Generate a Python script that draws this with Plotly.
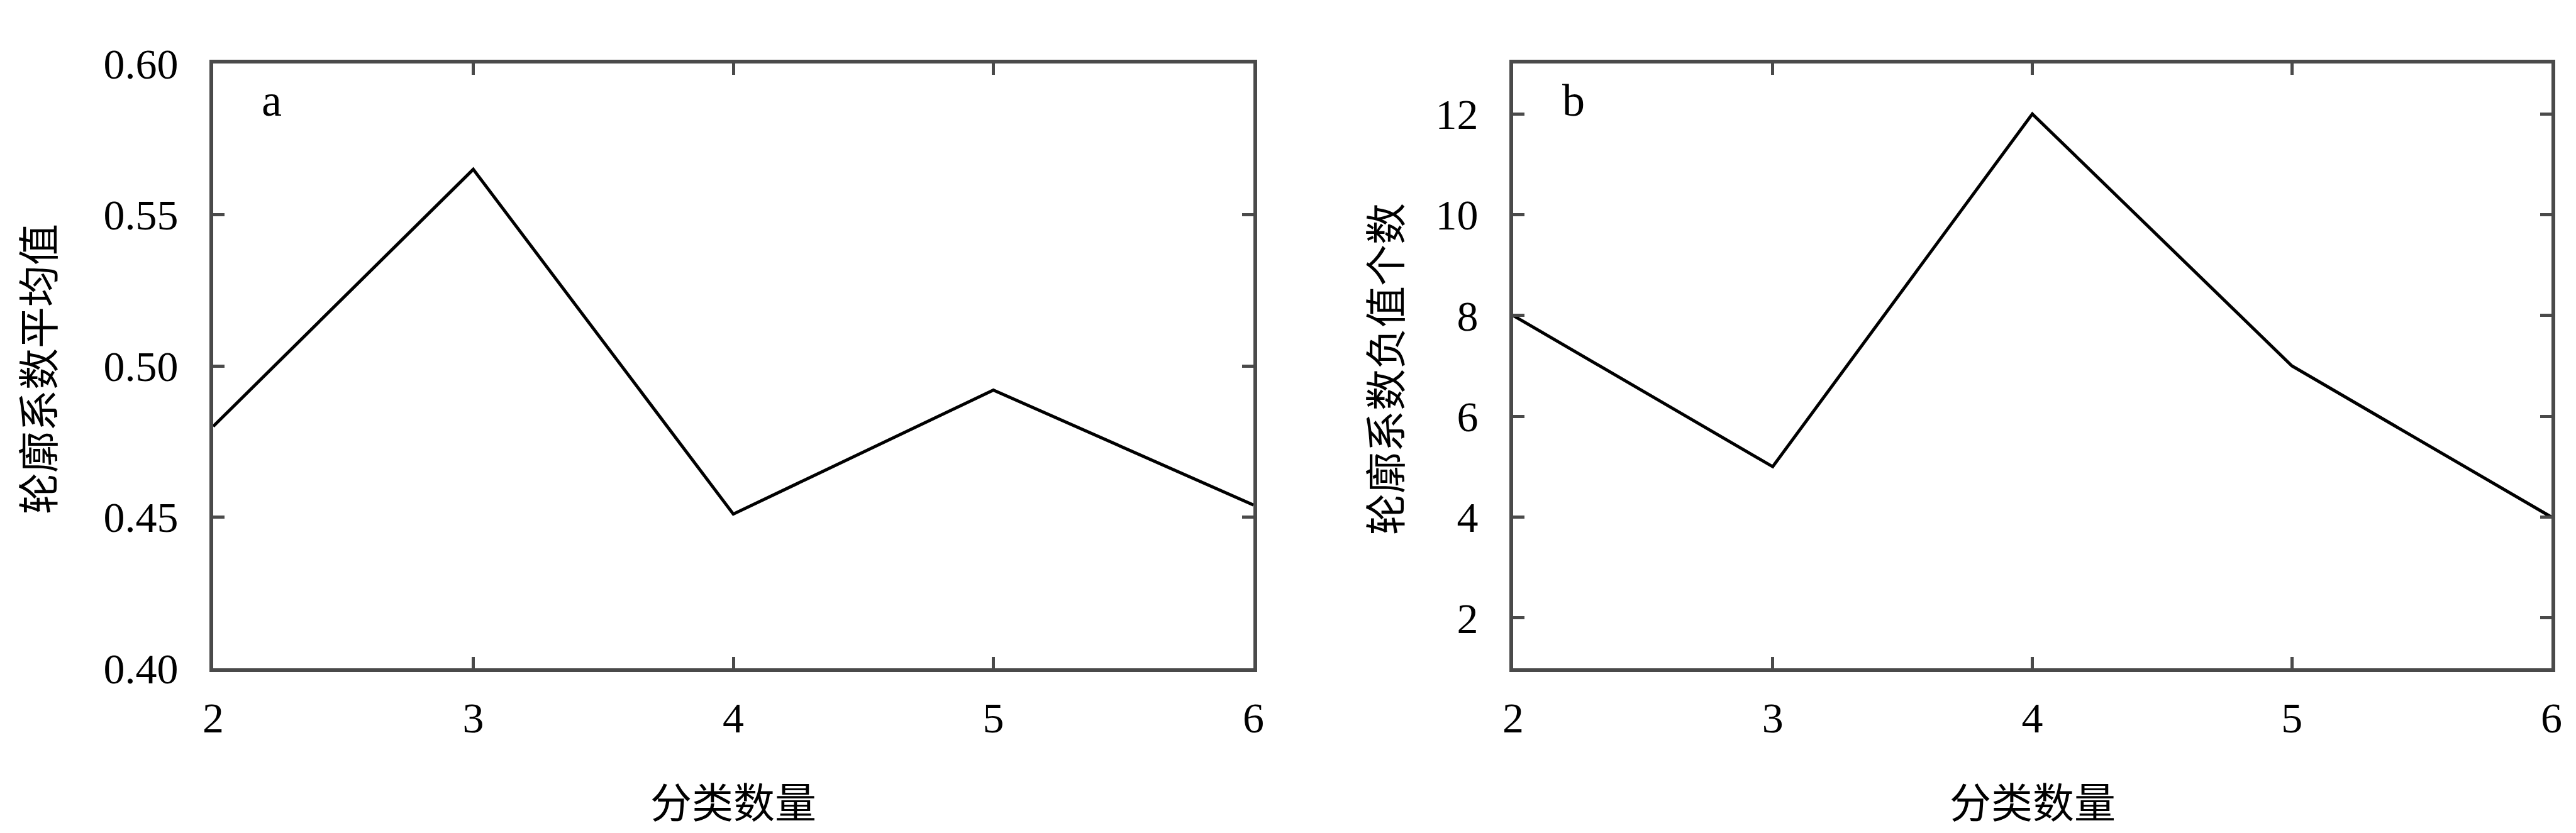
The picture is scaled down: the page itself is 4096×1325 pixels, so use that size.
import plotly.graph_objects as go

# Data
k_values = [2, 3, 4, 5, 6]
mean_silhouette = [0.480, 0.565, 0.451, 0.492, 0.454]
negative_counts = [8, 5, 12, 7, 4]

x_title = "分类数量"
y_title_a = "轮廓系数平均值"
y_title_b = "轮廓系数负值个数"
panel_labels = ["a", "b"]

W, H = 4096, 1325
AX = "#4a4a4a"
FONT = "Liberation Serif, Noto Sans CJK SC"
CJK = "Noto Sans CJK SC"

fig = go.Figure()
fig.add_trace(go.Scatter(x=k_values, y=mean_silhouette, mode="lines",
                         line=dict(color="black", width=5), xaxis="x", yaxis="y",
                         showlegend=False, hoverinfo="skip"))
fig.add_trace(go.Scatter(x=k_values, y=negative_counts, mode="lines",
                         line=dict(color="black", width=5), xaxis="x2", yaxis="y2",
                         showlegend=False, hoverinfo="skip"))

ydom = [1 - 1055 / H, 1 - 93 / H]
xdom1 = [331 / W, 1985 / W]
xdom2 = [2398 / W, 4049 / W]

common = dict(showline=True, linecolor=AX, linewidth=6, mirror="allticks",
              ticks="inside", ticklen=18, tickwidth=5, tickcolor=AX,
              showgrid=False, zeroline=False, automargin=False,
              tickfont=dict(family=FONT, size=68, color="black"))

fig.update_layout(
    width=W, height=H,
    margin=dict(l=0, r=0, t=0, b=0),
    paper_bgcolor="white", plot_bgcolor="white",
    xaxis=dict(domain=xdom1, anchor="y", range=[2, 6], tickvals=k_values,
               ticklabelstandoff=14, **common),
    yaxis=dict(domain=ydom, anchor="x", range=[0.40, 0.60],
               tickvals=[0.40, 0.45, 0.50, 0.55, 0.60], tickformat=".2f",
               ticklabelstandoff=36, **common),
    xaxis2=dict(domain=xdom2, anchor="y2", range=[2, 6], tickvals=k_values,
                ticklabelstandoff=14, **common),
    yaxis2=dict(domain=ydom, anchor="x2", range=[1, 13],
                tickvals=[2, 4, 6, 8, 10, 12],
                ticklabelstandoff=36, **common),
)

ann = []
for cx in [(331 + 1985) / 2, (2398 + 4049) / 2]:
    ann.append(dict(text=x_title, x=cx / W, y=1 - 1264 / H, xref="paper", yref="paper",
                    xanchor="center", yanchor="middle", showarrow=False,
                    font=dict(family=CJK, size=66, color="black")))
ann.append(dict(text=y_title_a, x=49 / W, y=1 - 579 / H, xref="paper", yref="paper",
                xanchor="center", yanchor="middle", showarrow=False, textangle=-90,
                font=dict(family=CJK, size=66, color="black")))
ann.append(dict(text=y_title_b, x=2191 / W, y=1 - 579 / H, xref="paper", yref="paper",
                xanchor="center", yanchor="middle", showarrow=False, textangle=-90,
                font=dict(family=CJK, size=66, color="black")))
for lbl, cx in zip(panel_labels, [424, 2494]):
    ann.append(dict(text=lbl, x=cx / W, y=1 - 152 / H, xref="paper", yref="paper",
                    xanchor="center", yanchor="middle", showarrow=False,
                    font=dict(family=FONT, size=72, color="black")))
fig.update_layout(annotations=ann)

fig.write_html("out.html")
